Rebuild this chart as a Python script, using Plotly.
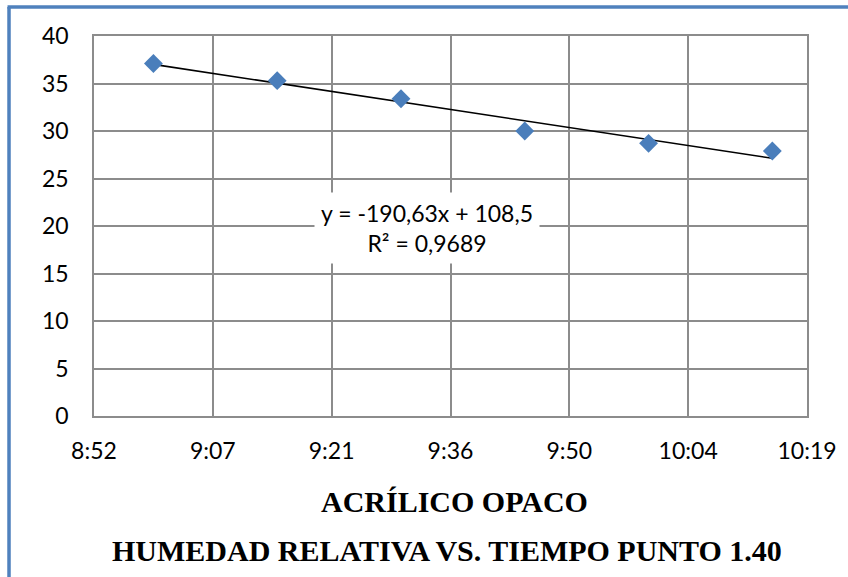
import numpy as np
import plotly.graph_objects as go

# Data (time as fraction of a day, Excel style)
times = ["9:00", "9:15", "9:30", "9:45", "10:00", "10:15"]
humidity = [37.1, 35.3, 33.4, 30.0, 28.7, 27.9]

tick_vals = [0.37, 0.38, 0.39, 0.40, 0.41, 0.42, 0.43]
tick_text = ["8:52", "9:07", "9:21", "9:36", "9:50", "10:04", "10:19"]
y_ticks = [0, 5, 10, 15, 20, 25, 30, 35, 40]

eq_text = "y = -190,63x + 108,5<br>R² = 0,9689"
title1 = "ACRÍLICO OPACO"
title2 = "HUMEDAD RELATIVA VS. TIEMPO PUNTO 1.40"


def to_day_fraction(t):
    h, m = t.split(":")
    return (int(h) * 60 + int(m)) / 1440.0


x = np.array([to_day_fraction(t) for t in times])
y = np.array(humidity)
slope, intercept = np.polyfit(x, y, 1)
xt = np.array([x.min(), x.max()])
yt = slope * xt + intercept

GRID = "#8c8c8c"
BLUE = "#4F81BD"
FONT = "Lato"

fig = go.Figure()
fig.add_trace(go.Scatter(x=xt, y=yt, mode="lines",
                         line=dict(color="black", width=1.6),
                         showlegend=False, hoverinfo="skip"))
fig.add_trace(go.Scatter(x=x, y=y, mode="markers",
                         marker=dict(symbol="diamond", size=14.5, color="#4A7EBB",
                                     line=dict(width=0)),
                         showlegend=False))

fig.add_annotation(x=0.3980, y=19.8, xref="x", yref="y", text=eq_text,
                   showarrow=False, bgcolor="white", borderpad=6,
                   font=dict(family=FONT, size=23, color="black"))

fig.add_annotation(x=0.506, y=-0.226, xref="paper", yref="paper", text="<b>" + title1 + "</b>",
                   showarrow=False, xanchor="center", yanchor="middle",
                   font=dict(family="Liberation Serif", size=30, color="black"))
fig.add_annotation(x=0.495, y=-0.353, xref="paper", yref="paper", text="<b>" + title2 + "</b>",
                   showarrow=False, xanchor="center", yanchor="middle",
                   font=dict(family="Liberation Serif", size=30, color="black"))

# Document frame (blue border at left and top)
fig.add_shape(type="line", xref="paper", yref="paper", x0=-0.1192, x1=-0.1192,
              y0=1.0763, y1=-0.45, line=dict(color=BLUE, width=3.5))
fig.add_shape(type="line", xref="paper", yref="paper", x0=-0.1213, x1=1.1,
              y0=1.0763, y1=1.0763, line=dict(color=BLUE, width=3.5))

fig.update_xaxes(range=[0.37, 0.43], tickvals=tick_vals, ticktext=tick_text,
                 showgrid=True, gridcolor=GRID, gridwidth=1.5,
                 showline=True, linecolor=GRID, linewidth=1.5, mirror=True,
                 zeroline=False, ticks="", ticklabelstandoff=14,
                 tickfont=dict(family=FONT, size=23, color="black"))
fig.update_yaxes(range=[0, 40], tickvals=y_ticks,
                 showgrid=True, gridcolor=GRID, gridwidth=1.5,
                 showline=True, linecolor=GRID, linewidth=1.5, mirror=True,
                 zeroline=False, ticks="", ticklabelstandoff=19,
                 tickfont=dict(family=FONT, size=23, color="black"))

fig.update_layout(width=848, height=577,
                  margin=dict(l=94, r=41, t=36, b=161),
                  paper_bgcolor="white", plot_bgcolor="white",
                  showlegend=False)

fig.write_html("out.html", config={"displayModeBar": False},
               post_script="document.body.style.margin='0px';document.body.style.overflow='hidden';")
